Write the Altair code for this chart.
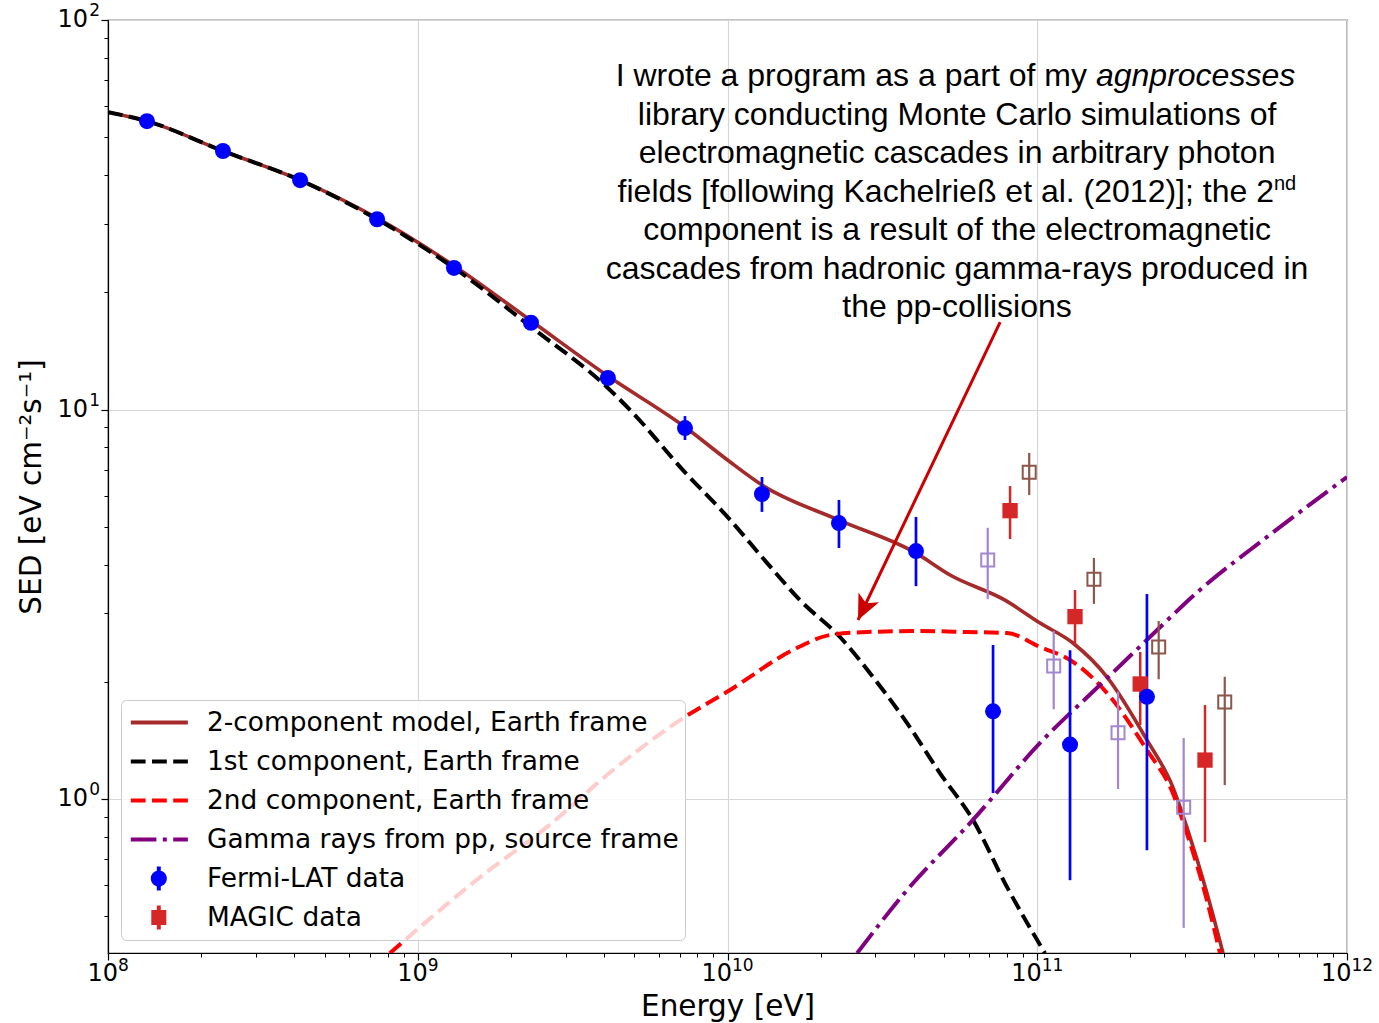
import altair as alt
import pandas as pd

# ---------------- model curves (Energy [eV], SED [eV cm^-2 s^-1]) ----------------
total_E = [1.0e8, 1.336e8, 2.35e8, 4.17e8, 7.39e8, 1.309e9, 2.32e9, 4.11e9, 7.29e9, 1.0e10,
           1.292e10, 2.29e10, 4.06e10, 5.23e10, 7.87e10, 1.021e11, 1.304e11, 1.68e11, 2.26e11,
           2.74e11, 3.04e11, 3.53e11, 3.98e11]
total_S = [58.0, 55.0, 46.1, 38.8, 31.0, 23.4, 16.9, 12.19, 9.02, 7.42,
           6.40, 5.20, 4.28, 3.76, 3.24, 2.83, 2.515, 2.057, 1.418,
           1.073, 0.847, 0.574, 0.402]

first_E = [1.0e8, 1.336e8, 2.35e8, 4.17e8, 7.39e8, 1.309e9, 2.32e9, 4.11e9, 4.95e9, 7.18e9,
           1.0e10, 1.341e10, 1.714e10, 2.307e10, 2.95e10, 3.80e10, 4.85e10, 6.20e10, 7.99e10, 1.059e11]
first_S = [58.0, 55.0, 46.1, 38.8, 30.8, 23.1, 16.3, 11.36, 9.80, 6.99,
           5.30, 4.04, 3.24, 2.606, 2.057, 1.567, 1.166, 0.884, 0.594, 0.402]

second_E = [8.13e8, 9.66e8, 1.589e9, 2.61e9, 4.27e9, 7.03e9, 1.019e10, 1.627e10, 2.14e10, 2.82e10,
            4.18e10, 5.93e10, 7.99e10, 1.021e11, 1.276e11, 1.68e11, 2.26e11, 2.74e11, 3.04e11,
            3.53e11, 3.89e11]
second_S = [0.402, 0.453, 0.630, 0.847, 1.187, 1.595, 1.905, 2.413, 2.637, 2.684,
            2.700, 2.684, 2.668, 2.456, 2.275, 1.871, 1.336, 1.036, 0.818,
            0.550, 0.402]

pp_E = [2.62e10, 3.80e10, 6.20e10, 1.021e11, 1.594e11, 2.31e11, 3.35e11, 5.52e11, 1.0e12]
pp_S = [0.402, 0.584, 0.884, 1.393, 1.962, 2.606, 3.44, 4.71, 6.71]

# ---------------- data points ----------------
fermi_E = [1.336e8, 2.35e8, 4.17e8, 7.39e8, 1.309e9, 2.32e9, 4.11e9, 7.29e9, 1.292e10, 2.29e10,
           4.06e10, 7.2e10, 1.276e11, 2.26e11]
fermi_S = [55.0, 46.1, 38.8, 30.8, 23.1, 16.7, 12.05, 8.96, 6.07, 5.11, 4.33, 1.68, 1.38, 1.83]
fermi_lo = [53.5, 44.9, 37.7, 29.9, 22.4, 16.1, 11.6, 8.35, 5.46, 4.41, 3.52, 1.036, 0.619, 0.739]
fermi_hi = [56.5, 47.3, 39.9, 31.7, 23.8, 17.3, 12.5, 9.62, 6.71, 5.86, 5.30, 2.486, 2.41, 3.36]

magic_E = [8.17e10, 1.324e11, 2.15e11, 3.48e11]
magic_S = [5.50, 2.94, 1.974, 1.259]
magic_lo = [4.65, 2.49, 1.549, 0.775]
magic_hi = [6.36, 3.44, 2.385, 1.743]

open_pur_E = [6.92e10, 1.13e11, 1.823e11, 2.97e11]
open_pur_S = [4.11, 2.195, 1.480, 0.952]
open_pur_lo = [3.26, 1.70, 1.061, 0.467]
open_pur_hi = [4.97, 2.70, 1.886, 1.434]

open_brn_E = [9.42e10, 1.524e11, 2.466e11, 4.03e11]
open_brn_S = [6.90, 3.665, 2.456, 1.774]
open_brn_lo = [6.03, 3.17, 2.03, 1.086]
open_brn_hi = [7.74, 4.16, 2.864, 2.06]

# ---------------- legend ----------------
legend_labels = ["2-component model, Earth frame", "1st component, Earth frame",
                 "2nd component, Earth frame", "Gamma rays from pp, source frame",
                 "Fermi-LAT data", "MAGIC data"]
legend_colors = ["#a52a2a", "#000000", "#ff0000", "#800080", "#0000ff", "#d62728"]
legend_dashes = [[1, 0], [14.8, 6.4], [14.8, 6.4], [25.6, 6.4, 4, 6.4], [1, 0], [1, 0]]

# ---------------- ticks ----------------
x_major = [1e8, 1e9, 1e10, 1e11, 1e12]
x_major_exp = ["8", "9", "10", "11", "12"]
x_minor = [m * 10.0 ** k for k in range(8, 12) for m in range(2, 10)]
y_major = [1.0, 10.0, 100.0]
y_major_exp = ["0", "1", "2"]
y_minor = [0.5, 0.6, 0.7, 0.8, 0.9] + [m * 10.0 ** k for k in range(0, 2) for m in range(2, 10)]

# ---------------- annotation ----------------
note_block_a = ["library conducting Monte Carlo simulations of",
                "electromagnetic cascades in arbitrary photon"]
note_block_b = ["component is a result of the electromagnetic",
                "cascades from hadronic gamma-rays produced in", "the pp-collisions"]
note_center_E = 5.51e10
note_a_S, note_b_S = 53.9, 27.2
note1a, note1b = "I wrote a program as a part of my", "agnprocesses"
note1_E, note1_S = [1.447e11], [67.7]
note4a, note4b = "fields [following Kachelrieß et al. (2012)]; the 2", "nd"
note4_E, note4_S = [5.81e11], [34.2]
arrow_E, arrow_S = [7.59e10], [16.77]
arrow_E2, arrow_S2 = [2.638e10], [2.882]

# ---------------- styling helpers ----------------
xscale = alt.Scale(type="log", domain=[1e8, 1e12], nice=False)
yscale = alt.Scale(type="log", domain=[0.4025, 100], nice=False)

FONT = "DejaVu Sans"
x_axis_major = alt.Axis(orient="bottom", values=x_major, labels=False,
                        tickSize=7, tickWidth=1.2, tickColor="black", domainColor="black",
                        domainWidth=1.2, grid=True, gridColor="#d6d6d6", gridWidth=1.2,
                        title="Energy [eV]", titleFont=FONT, titleFontSize=29.5,
                        titleFontWeight="normal", titleColor="black",
                        titleX=619.5, titleY=62, titleBaseline="alphabetic", titleAlign="center")
y_axis_major = alt.Axis(orient="left", values=y_major, labels=False,
                        tickSize=7, tickWidth=1.2, tickColor="black", domainColor="black",
                        domainWidth=1.2, grid=True, gridColor="#d6d6d6", gridWidth=1.2,
                        title="SED [eV cm⁻²s⁻¹]", titleFont=FONT, titleFontSize=29.5,
                        titleFontWeight="normal", titleColor="black",
                        titleX=-68, titleY=466.5, titleAngle=270, titleBaseline="alphabetic",
                        titleAlign="center")
x_axis_minor = alt.Axis(orient="bottom", values=x_minor, tickSize=4, tickWidth=1, tickColor="black",
                        labels=False, domain=False, grid=False, title=None)
y_axis_minor = alt.Axis(orient="left", values=y_minor, tickSize=4, tickWidth=1, tickColor="black",
                        labels=False, domain=False, grid=False, title=None)


def xy(xfield="E", yfield="S", xaxis=None, yaxis=None):
    return dict(x=alt.X(f"{xfield}:Q", scale=xscale, axis=xaxis),
                y=alt.Y(f"{yfield}:Q", scale=yscale, axis=yaxis))


def line_layer(E, S, color, width, dash=None, xaxis=None, yaxis=None):
    kw = dict(color=color, strokeWidth=width, interpolate="monotone", clip=True)
    if dash is not None:
        kw["strokeDash"] = dash
    return alt.Chart(pd.DataFrame({"E": E, "S": S})).mark_line(**kw).encode(
        **xy(xaxis=xaxis, yaxis=yaxis))


def err_layer(E, lo, hi, color, width):
    df = pd.DataFrame({"E": E, "lo": lo, "hi": hi})
    return alt.Chart(df).mark_rule(color=color, strokeWidth=width, clip=True).encode(
        x=alt.X("E:Q", scale=xscale, axis=None),
        y=alt.Y("lo:Q", scale=yscale, axis=None),
        y2="hi:Q")


def pt_layer(E, S, color, shape, size, filled, sw=2):
    df = pd.DataFrame({"E": E, "S": S})
    return alt.Chart(df).mark_point(color=color, shape=shape, size=size, filled=filled,
                                    opacity=1, strokeWidth=sw, clip=True).encode(**xy())


l_total = line_layer(total_E, total_S, "#a52a2a", 3.6, xaxis=x_axis_major, yaxis=y_axis_major)
l_first = line_layer(first_E, first_S, "#000000", 4, [14.8, 6.4], xaxis=x_axis_minor, yaxis=y_axis_minor)
l_second = line_layer(second_E, second_S, "#ff0000", 4, [14.8, 6.4])
l_pp = line_layer(pp_E, pp_S, "#800080", 4, [25.6, 6.4, 4, 6.4])

arrow = alt.Chart(pd.DataFrame({"E": arrow_E, "S": arrow_S, "E2": arrow_E2, "S2": arrow_S2})).mark_rule(
    color="#cc0000", strokeWidth=3).encode(
    x=alt.X("E:Q", scale=xscale, axis=None), y=alt.Y("S:Q", scale=yscale, axis=None),
    x2="E2:Q", y2="S2:Q")
arrow_head = alt.Chart(pd.DataFrame({"E": arrow_E2, "S": arrow_S2})).mark_point(
    shape="M0,0L0.5,1.1L0,0.82L-0.5,1.1Z", angle=205.5, size=2070, filled=True,
    color="#cc0000", opacity=1).encode(**xy())

errs = [
    err_layer(open_pur_E, open_pur_lo, open_pur_hi, "#a286cf", 2.2),
    err_layer(open_brn_E, open_brn_lo, open_brn_hi, "#8c564b", 2.2),
    err_layer(magic_E, magic_lo, magic_hi, "#d62728", 2.5),
    err_layer(fermi_E, fermi_lo, fermi_hi, "#0000ff", 2.7),
]
pts = [
    pt_layer(open_pur_E, open_pur_S, "#a286cf", "square", 169, False),
    pt_layer(open_brn_E, open_brn_S, "#8c564b", "square", 169, False),
    pt_layer(magic_E, magic_S, "#d62728", "square", 235, True),
    pt_layer(fermi_E, fermi_S, "#0000ff", "circle", 256, True),
]

# ---- tick labels written as 10 + raised exponent ----
TICK_FS, EXP_FS = 24, 17
X_LAB_BASE = 961


def xtick_labels(vals, exps, d):
    df = pd.DataFrame({"E": vals, "exp": exps})
    base = alt.Chart(df).mark_text(align="right", baseline="alphabetic", dx=d, font=FONT,
                                   fontSize=TICK_FS, color="black", text="10").encode(
        x=alt.X("E:Q", scale=xscale, axis=None), y=alt.value(X_LAB_BASE))
    sup = alt.Chart(df).mark_text(align="left", baseline="alphabetic", dx=d, dy=-10, font=FONT,
                                  fontSize=EXP_FS, color="black").encode(
        x=alt.X("E:Q", scale=xscale, axis=None), y=alt.value(X_LAB_BASE), text="exp:N")
    return [base, sup]


one_digit = [(v, e) for v, e in zip(x_major, x_major_exp) if len(e) == 1]
two_digit = [(v, e) for v, e in zip(x_major, x_major_exp) if len(e) == 2]
x_labels = (xtick_labels([v for v, _ in one_digit], [e for _, e in one_digit], 10)
            + xtick_labels([v for v, _ in two_digit], [e for _, e in two_digit], 4.5))

ydf = pd.DataFrame({"S": y_major, "exp": y_major_exp})
y_lab_base = alt.Chart(ydf).mark_text(align="right", baseline="middle", font=FONT, fontSize=TICK_FS,
                                      color="black", text="10").encode(
    x=alt.value(-20), y=alt.Y("S:Q", scale=yscale, axis=None))
y_lab_sup = alt.Chart(ydf).mark_text(align="right", baseline="middle", dy=-9, font=FONT,
                                     fontSize=EXP_FS, color="black").encode(
    x=alt.value(-8), y=alt.Y("S:Q", scale=yscale, axis=None), text="exp:N")

NOTE_FONT = "Liberation Sans"


def note_text(E, S, text, align, size=32, **kw):
    return alt.Chart(pd.DataFrame({"E": [E], "S": [S]})).mark_text(
        text=text, align=align, baseline="alphabetic", font=NOTE_FONT, fontSize=size,
        lineHeight=38.5, color="black", **kw).encode(**xy())


notes = [
    note_text(note1_E[0], note1_S[0], note1a, "right"),
    note_text(note1_E[0], note1_S[0], note1b, "left", dx=9, fontStyle="italic"),
    note_text(note_center_E, note_a_S, note_block_a, "center"),
    note_text(note4_E[0], note4_S[0], note4a, "right"),
    note_text(note4_E[0], note4_S[0], note4b, "left", size=20, dy=-12),
    note_text(note_center_E, note_b_S, note_block_b, "center"),
]


# legend glyphs (unit = 18 px; symbol box spans -1..1)
def circ(cx, r):
    return f"M{cx - r:.3f},0A{r:.3f},{r:.3f} 0 1,0 {cx + r:.3f},0A{r:.3f},{r:.3f} 0 1,0 {cx - r:.3f},0Z"


def sq(cx, h):
    return f"M{cx - h:.3f},{-h:.3f}L{cx + h:.3f},{-h:.3f}L{cx + h:.3f},{h:.3f}L{cx - h:.3f},{h:.3f}Z"


LINE_GLYPH = "M-0.9,0L2.27,0"
CX = 0.656
VBAR = f"M{CX},-0.67L{CX},0.67"
legend_shapes = [LINE_GLYPH, LINE_GLYPH, LINE_GLYPH, LINE_GLYPH,
                 circ(CX, 0.333) + circ(CX, 0.139) + VBAR,
                 sq(CX, 0.306) + sq(CX, 0.083) + VBAR]

leg = alt.Legend(title=None, orient="bottom-left", offset=13, fillColor="rgba(255,255,255,0.8)",
                 strokeColor="#cccccc", cornerRadius=5, padding=6, labelFont=FONT,
                 labelFontSize=26.4, labelColor="black", labelLimit=800, symbolSize=1296,
                 symbolStrokeWidth=4, labelOffset=40, rowPadding=6, clipHeight=33)
legend_layer = alt.Chart(pd.DataFrame({"series": legend_labels})).transform_filter("false").mark_point(
    filled=False, size=1296, strokeWidth=4, opacity=1).encode(
    color=alt.Color("series:N", scale=alt.Scale(domain=legend_labels, range=legend_colors), legend=leg),
    shape=alt.Shape("series:N", scale=alt.Scale(domain=legend_labels, range=legend_shapes), legend=leg),
    strokeDash=alt.StrokeDash("series:N", scale=alt.Scale(domain=legend_labels, range=legend_dashes),
                              legend=leg))

chart = alt.layer(
    l_total, l_first, l_second, l_pp, arrow, arrow_head, *errs, *pts,
    *x_labels, y_lab_base, y_lab_sup, *notes, legend_layer
).resolve_axis(x="independent", y="independent").properties(
    width=1239, height=933,
    autosize=alt.AutoSizeParams(type="none"),
    padding={"left": 108, "top": 20, "right": 32, "bottom": 70},
    background="white",
).configure_view(stroke="#111111", strokeWidth=1.2)

chart.save("out.html", embed_options={"renderer": "svg", "actions": False})
